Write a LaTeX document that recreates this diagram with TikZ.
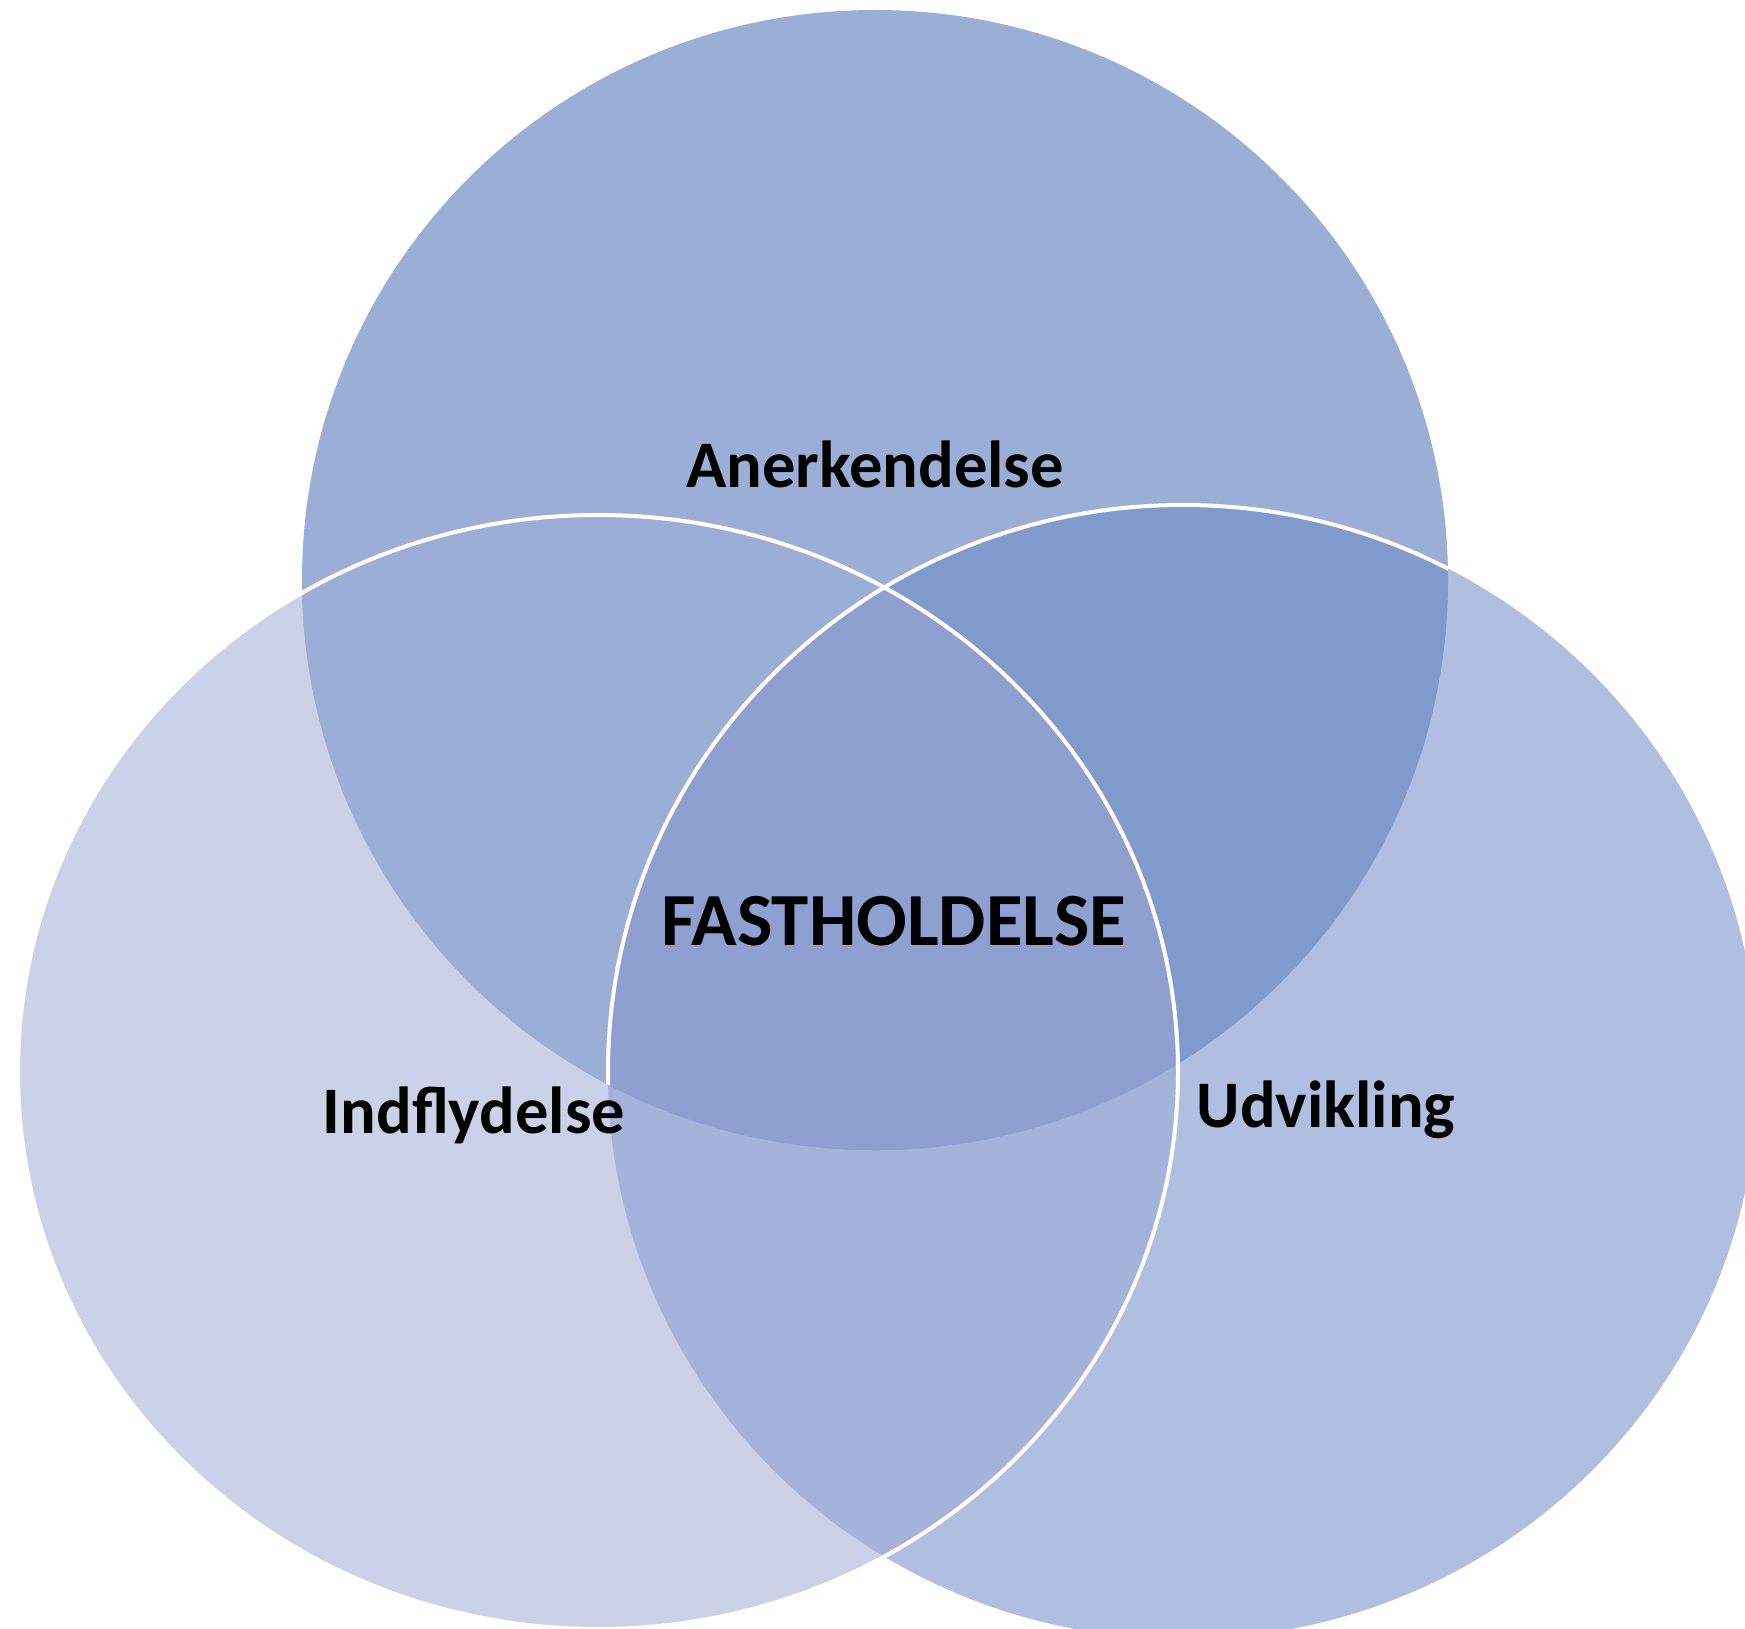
\documentclass[tikz,border=0pt]{standalone}
\usepackage{fontspec}
\setmainfont{Carlito}
\definecolor{cTop}{HTML}{9BAED5}
\definecolor{cLeft}{HTML}{CBD2E8}
\definecolor{cRight}{HTML}{B0BEE0}
\definecolor{cTL}{HTML}{9BAED6}
\definecolor{cTR}{HTML}{7F9ACB}
\definecolor{cLR}{HTML}{A5B3DA}
\definecolor{cMid}{HTML}{8E9FD0}
\begin{document}
\begin{tikzpicture}[x=1pt,y=-1pt,
  lbl/.style={font=\fontsize{66.5}{80}\selectfont\bfseries, text=black, inner sep=0pt, anchor=base},
  bigl/.style={font=\fontsize{75}{90}\selectfont\bfseries, text=black, inner sep=0pt, anchor=base},
  rim/.style={white, line width=4pt}]
\useasboundingbox (0,0) rectangle (1745,1629);
\fill[white] (0,0) rectangle (1745,1629);
% single circles
\fill[cLeft] (598,1072) ellipse [x radius=580pt, y radius=557pt];
\fill[cRight] (1183,1072) ellipse [x radius=575pt, y radius=567pt];
\begin{scope}
  \clip (598,1072) ellipse [x radius=580pt, y radius=557pt];
  \fill[cLR] (1183,1072) ellipse [x radius=575pt, y radius=567pt];
\end{scope}
\fill[cTop] (875,580) ellipse [x radius=573pt, y radius=570pt];
\begin{scope}
  \clip (875,580) ellipse [x radius=573pt, y radius=570pt];
  \fill[cTR] (1183,1072) ellipse [x radius=575pt, y radius=567pt];
\end{scope}
\begin{scope}
  \clip (875,580) ellipse [x radius=573pt, y radius=570pt];
  \fill[cTL] (598,1072) ellipse [x radius=580pt, y radius=557pt];
\end{scope}
\begin{scope}
  \clip (875,580) ellipse [x radius=573pt, y radius=570pt];
  \clip (598,1072) ellipse [x radius=580pt, y radius=557pt];
  \fill[cMid] (1183,1072) ellipse [x radius=575pt, y radius=567pt];
\end{scope}
% white rims
\begin{scope}
  \clip (875,580) ellipse [x radius=573pt, y radius=570pt];
  \draw[rim] (1183,1072) ellipse [x radius=575pt, y radius=567pt];
\end{scope}
\draw[rim] (598,1072) ellipse [x radius=580pt, y radius=557pt];
% labels
\node[lbl] (aner) at (875,487) {Anerkendelse};
\node[lbl] (indf) at (474,1133) {Indflydelse};
\node[lbl] (udv) at (1326,1127) {Udvikling};
\node[bigl] (fast) at (894,945) {FASTHOLDELSE};
\end{tikzpicture}
\end{document}
